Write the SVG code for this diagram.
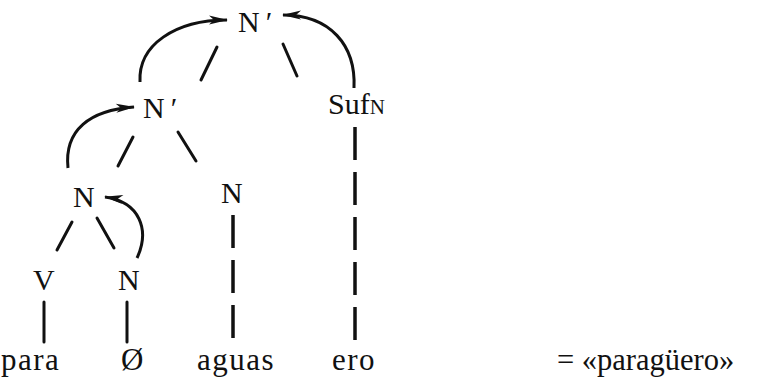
<svg xmlns="http://www.w3.org/2000/svg" width="760" height="378" viewBox="0 0 760 378">
<style>
text{font-family:"Liberation Serif","Times New Roman",serif;font-size:30px;fill:#111}
.w{font-size:31px;letter-spacing:1.5px}
.q{font-size:30.5px}
.e{stroke:#111;stroke-width:3;stroke-linecap:round;fill:none}
.a{stroke:#111;stroke-width:3;fill:none;marker-end:url(#ah)}
.d{stroke:#111;stroke-width:3.5;fill:none;stroke-dasharray:33 12}
</style>
<defs>
<marker id="ah" markerUnits="userSpaceOnUse" markerWidth="24" markerHeight="12" viewBox="0 -6 20 12" refX="18" refY="0" orient="auto">
<path d="M0,-4.5 L19,0 L0,4.5 L5,0 Z" fill="#111"/>
</marker>
</defs>
<rect width="760" height="378" fill="#fff"/>
<g id="connectors">
<line class="e" x1="217" y1="47" x2="201" y2="80"/>
<line class="e" x1="283" y1="44" x2="297" y2="76"/>
<line class="e" x1="133" y1="137" x2="118" y2="166"/>
<line class="e" x1="178" y1="132" x2="196" y2="161"/>
<line class="e" x1="72" y1="222" x2="57" y2="250"/>
<line class="e" x1="97" y1="218" x2="114" y2="248"/>
<line class="e" x1="44" y1="302" x2="44" y2="342"/>
<line class="e" x1="127" y1="302" x2="127" y2="342"/>
<line class="d" x1="233" y1="215" x2="233" y2="338"/>
<line class="d" x1="355" y1="127" x2="355" y2="340"/>
<path class="a" d="M140,82 C138,45 175,20 227,20"/>
<path class="a" d="M354,88 C356,45 330,15 283,15"/>
<path class="a" d="M68,168 C64,130 90,110 134,107"/>
<path class="a" d="M137,258 C150,230 140,202 105,197"/>
</g>
<g id="n_top"><text x="238" y="32">N<tspan dx="6">′</tspan></text></g>
<g id="n_mid"><text x="143" y="118">N<tspan dx="6">′</tspan></text></g>
<g id="n_suf"><text x="328" y="114">Suf<tspan font-size="21">N</tspan></text></g>
<g id="n_left"><text x="73" y="207">N</text></g>
<g id="n_aguasN"><text x="221" y="203">N</text></g>
<g id="n_V"><text x="33" y="290">V</text></g>
<g id="n_N0"><text x="118" y="290">N</text></g>
<g id="w_para"><text class="w" x="1" y="370">para</text></g>
<g id="w_zero"><text class="w" x="121" y="370">Ø</text></g>
<g id="w_aguas"><text class="w" x="197" y="370">aguas</text></g>
<g id="w_ero"><text class="w" x="332" y="370">ero</text></g>
<g id="w_eq"><text class="q" x="557" y="370">= «paragüero»</text></g>
</svg>
